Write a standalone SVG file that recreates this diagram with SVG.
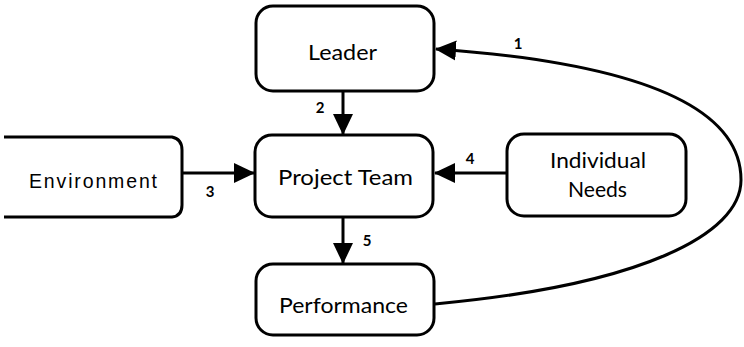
<svg xmlns="http://www.w3.org/2000/svg" width="744" height="347" viewBox="0 0 744 347">
  <style>
    .box { fill: #fff; stroke: #000; stroke-width: 3; }
    .lbl { font-family: Lato, "Open Sans", "DejaVu Sans", sans-serif; font-size: 21px; fill: #000; }
    .env { font-family: "Liberation Sans", Arial, sans-serif; font-size: 19.5px; fill: #000; }
    .num { font-family: Lato, "DejaVu Sans", sans-serif; font-size: 15px; font-weight: bold; fill: #000; }
    .edge { fill: none; stroke: #000; stroke-width: 3; }
  </style>
  <defs>
    <marker id="arrow" markerUnits="userSpaceOnUse" markerWidth="22" markerHeight="22" viewBox="0 0 22 22" refX="20" refY="11" orient="auto">
      <path d="M0,1 L21,11 L0,21 Z" fill="#000"/>
    </marker>
  </defs>
  <rect width="744" height="347" fill="#fff"/>

  <g id="connectors">
    <path class="edge" d="M343,92 V134" marker-end="url(#arrow)"/>
    <path class="edge" d="M182,173 H254" marker-end="url(#arrow)"/>
    <path class="edge" d="M507,173 H435" marker-end="url(#arrow)"/>
    <path class="edge" d="M343,217 V263" marker-end="url(#arrow)"/>
    <path class="edge" stroke-width="2.5" d="M435,304 C640,285 741,235 741,180 C741,100 620,62 436,49" marker-end="url(#arrow)"/>
    <text class="num" x="518" y="49" text-anchor="middle">1</text>
    <text class="num" x="320" y="113" text-anchor="middle">2</text>
    <text class="num" x="210" y="197" text-anchor="middle">3</text>
    <text class="num" x="470" y="164" text-anchor="middle">4</text>
    <text class="num" x="367" y="246" text-anchor="middle">5</text>
  </g>

  <g id="leader">
    <rect class="box" x="256" y="6" width="178" height="85" rx="17"/>
    <text class="lbl" x="342.5" y="60" text-anchor="middle" textLength="69" lengthAdjust="spacingAndGlyphs">Leader</text>
  </g>

  <g id="project-team">
    <rect class="box" x="255" y="135" width="178" height="82" rx="17"/>
    <text class="lbl" x="345.5" y="185" text-anchor="middle" textLength="135" lengthAdjust="spacingAndGlyphs">Project Team</text>
  </g>

  <g id="environment">
    <path class="box" fill="none" d="M4,137 H172 Q182,139 182,150 V205 Q182,216 172,217 H4"/>
    <text class="env" x="93" y="188" text-anchor="middle" textLength="128" lengthAdjust="spacing">Environment</text>
  </g>

  <g id="individual-needs">
    <rect class="box" x="507" y="134" width="179" height="82" rx="17"/>
    <text class="lbl" x="598" y="168" text-anchor="middle" textLength="96" lengthAdjust="spacingAndGlyphs">Individual</text>
    <text class="lbl" x="597.5" y="197" text-anchor="middle" textLength="59" lengthAdjust="spacingAndGlyphs">Needs</text>
  </g>

  <g id="performance">
    <rect class="box" x="256" y="264" width="178" height="71" rx="17"/>
    <text class="lbl" x="343.5" y="313" text-anchor="middle" textLength="129" lengthAdjust="spacingAndGlyphs">Performance</text>
  </g>
</svg>
